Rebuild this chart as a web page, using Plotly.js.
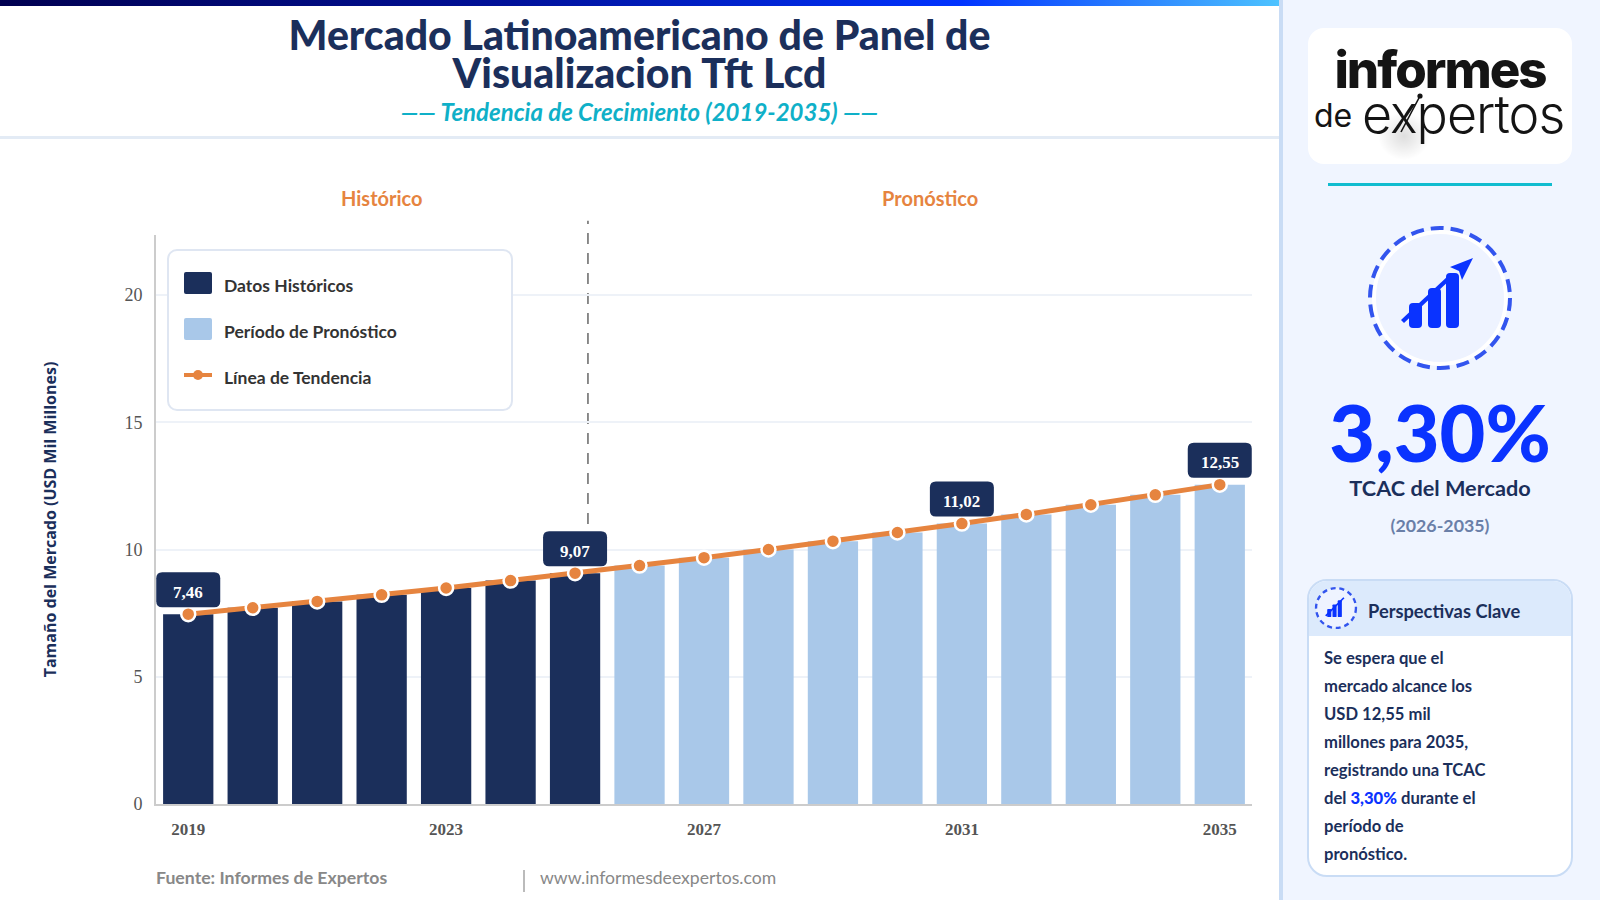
<!DOCTYPE html>
<html lang="es">
<head>
<meta charset="utf-8">
<script src="https://cdn.plot.ly/plotly-3.0.1.min.js"></script>
<style>
html,body{margin:0;padding:0;width:1600px;height:900px;overflow:hidden;background:#fff;font-family:Lato,sans-serif}
.abs{position:absolute;white-space:nowrap}
#topbar{left:0;top:0;width:1279px;height:6px;background:linear-gradient(90deg,#000050 0%,#00119a 40%,#0033ff 75%,#4dc3ff 100%)}
#hdrline{left:0;top:136px;width:1279px;height:3px;background:#e3ebf5}
#t1,#t2,#sub{left:0;width:1279px;text-align:center}
#t1,#t2{font-weight:900;font-size:41px;color:#1b2f5b;line-height:38px}
#t1{top:16px}#t2{top:54px}
#sub{top:98px;font-size:24px;font-weight:700;font-style:italic;color:#0fb0c8;line-height:28px}
#chart{left:0;top:0;width:1280px;height:900px}
#legend{left:167px;top:249px;width:346px;height:162px;box-sizing:border-box;background:#fff;border:2px solid #dfe6f2;border-radius:10px}
.sw{position:absolute;left:15px;width:28px;height:22px;border-radius:2px}
.lt{position:absolute;left:55px;font-size:17.5px;font-weight:700;color:#333;line-height:22px;white-space:nowrap}
#foot1{left:156px;top:867px;font-size:17.7px;font-weight:700;color:#888}
#footdiv{left:523px;top:870px;width:2px;height:22px;background:#bbb}
#foot2{left:540px;top:867px;font-size:17.6px;color:#888}
#side{left:1279px;top:0;width:321px;height:900px;box-sizing:border-box;background:#f0f5ff;border-left:4px solid #c9dcf5}
#logo{left:1308px;top:28px;width:264px;height:136px;background:#fff;border-radius:16px}
#l1{left:1308px;width:264px;text-align:center;top:45px;font-family:Inter,sans-serif;font-weight:800;font-size:51px;letter-spacing:-2px;color:#141414;line-height:50px}
#l2{left:1314px;top:98px;font-family:Inter,sans-serif;font-weight:400;font-size:32px;color:#141414;line-height:36px}
#l3{left:1362px;top:92px;font-family:Inter,sans-serif;font-weight:300;font-size:52px;letter-spacing:-1px;color:#141414;line-height:46px}
#teal{left:1328px;top:183px;width:224px;height:3px;background:#10bccf}
#pct{left:1280px;width:320px;text-align:center;top:394px;font-size:79px;font-weight:900;color:#0a33ff;line-height:76px}
#tcac{left:1280px;width:320px;text-align:center;top:475px;font-size:21.7px;font-weight:700;color:#1b2f5b;line-height:26px}
#per{left:1280px;width:320px;text-align:center;top:513px;font-size:17.8px;font-weight:700;color:#6a7fa8;line-height:24px}
#card{left:1307px;top:579px;width:266px;height:298px;box-sizing:border-box;background:#fff;border:2px solid #c9dcf5;border-radius:20px;overflow:hidden}
#cardh{position:absolute;left:0;top:0;width:100%;height:55px;background:#dceafc}
#cardt{position:absolute;left:59px;top:15px;font-size:18.3px;font-weight:700;color:#1b2f5b;line-height:30px;white-space:nowrap}
#cardb{position:absolute;left:15px;top:63px;font-size:16.6px;font-weight:700;color:#1b2f5b;line-height:28px;white-space:nowrap}
#cardb b{color:#0a33ff}
</style>
</head>
<body>
<div id="chart" class="abs"></div>
<div id="topbar" class="abs"></div>
<div id="hdrline" class="abs"></div>
<div id="t1" class="abs">Mercado Latinoamericano de Panel de</div>
<div id="t2" class="abs">Visualizacion Tft Lcd</div>
<div id="sub" class="abs">—— Tendencia de Crecimiento (2019-2035) ——</div>

<div id="legend" class="abs">
  <div class="sw" style="top:21px;background:#1b2f5b"></div><div class="lt" style="top:24px">Datos Históricos</div>
  <div class="sw" style="top:67px;background:#a9c8e9"></div><div class="lt" style="top:70px">Período de Pronóstico</div>
  <svg style="position:absolute;left:15px;top:113px" width="28" height="22"><rect x="0" y="9" width="28" height="4" fill="#e6843f"/><circle cx="14" cy="11" r="5" fill="#e6843f"/></svg>
  <div class="lt" style="top:116px">Línea de Tendencia</div>
</div>

<div id="foot1" class="abs">Fuente: Informes de Expertos</div>
<div id="footdiv" class="abs"></div>
<div id="foot2" class="abs">www.informesdeexpertos.com</div>

<div id="side" class="abs"></div>
<div id="logo" class="abs"></div>
<svg class="abs" style="left:1308px;top:28px" width="264" height="136">
  <defs><radialGradient id="sh"><stop offset="0" stop-color="#000" stop-opacity=".13"/><stop offset="1" stop-color="#000" stop-opacity="0"/></radialGradient></defs>
  <ellipse cx="96" cy="108" rx="26" ry="24" fill="url(#sh)"/>
</svg>
<div id="l1" class="abs">informes</div>
<div id="l2" class="abs">de</div>
<div id="l3" class="abs">expertos</div>
<svg class="abs" style="left:1308px;top:28px" width="264" height="136">
  <circle cx="112" cy="68" r="2.6" fill="#141414"/><path d="M112 68L93 104" stroke="#141414" stroke-width="1.6"/>
</svg>
<div id="teal" class="abs"></div>

<svg class="abs" style="left:1365px;top:223px" width="150" height="150" viewBox="0 0 150 150">
  <circle cx="75" cy="75" r="66" fill="#eef3ff" stroke="#fff" stroke-width="4"/>
  <circle cx="75" cy="75" r="70" fill="none" stroke="#3355ee" stroke-width="4" stroke-dasharray="13 7"/>
  <g fill="#0a33ff">
    <rect x="44" y="80" width="13" height="25" rx="4"/><rect x="63" y="65" width="13" height="40" rx="4"/><rect x="81" y="50" width="13" height="55" rx="4"/>
    <path d="M36 97 L84 52 L87 55 L39 100Z"/><path d="M108 35 L85 44 L94 48 L97 57Z"/>
  </g>
</svg>
<div id="pct" class="abs">3,30%</div>
<div id="tcac" class="abs">TCAC del Mercado</div>
<div id="per" class="abs">(2026-2035)</div>

<div id="card" class="abs">
  <div id="cardh"></div>
  <svg style="position:absolute;left:5px;top:5px" width="44" height="44" viewBox="0 0 150 150">
    <circle cx="75" cy="75" r="68" fill="#eef3ff" stroke="#3355ee" stroke-width="8" stroke-dasharray="17 13"/>
    <g fill="#0a33ff"><rect x="45" y="78" width="14" height="28" rx="3"/><rect x="63" y="63" width="14" height="43" rx="3"/><rect x="81" y="49" width="14" height="57" rx="3"/><path d="M38 100 L100 38 L104 42 L42 104Z"/></g>
  </svg>
  <div id="cardt">Perspectivas Clave</div>
  <div id="cardb">Se espera que el<br>mercado alcance los<br>USD 12,55 mil<br>millones para 2035,<br>registrando una TCAC<br>del <b>3,30%</b> durante el<br>período de<br>pronóstico.</div>
</div>

<script>
const histYears = [2019,2020,2021,2022,2023,2024,2025];
const histValues = [7.46,7.71,7.96,8.22,8.49,8.78,9.07];
const foreYears = [2026,2027,2028,2029,2030,2031,2032,2033,2034,2035];
const foreValues = [9.37,9.68,10.00,10.33,10.67,11.02,11.38,11.76,12.15,12.55];
const labelYears = [2019,2025,2031,2035];
const labelTexts = ['7,46','9,07','11,02','12,55'];
const labelValues = [7.46,9.07,11.02,12.55];
const xTicks = [2019,2023,2027,2031,2035];
const yTicks = [0,5,10,15,20];

const NAVY='#1b2f5b', LIGHT='#a9c8e9', ORANGE='#e6843f';
const allYears = histYears.concat(foreYears), allValues = histValues.concat(foreValues);

const traces = [
 {type:'bar',name:'Datos Históricos',x:histYears,y:histValues,marker:{color:NAVY},hoverinfo:'x+y'},
 {type:'bar',name:'Período de Pronóstico',x:foreYears,y:foreValues,marker:{color:LIGHT},hoverinfo:'x+y'},
 {type:'scatter',mode:'lines+markers',name:'Línea de Tendencia',x:allYears,y:allValues,
  line:{color:ORANGE,width:5},marker:{color:ORANGE,size:14,line:{color:'#fff',width:2.5}},hoverinfo:'x+y'}
];

// rounded bubble, anchored on the data point, sized in pixels
function bubblePath(){
  const w=32,b=7,t=42,r=6;
  return `M ${-w+r} ${b} L ${w-r} ${b} Q ${w} ${b} ${w} ${b+r} L ${w} ${t-r} Q ${w} ${t} ${w-r} ${t} L ${-w+r} ${t} Q ${-w} ${t} ${-w} ${t-r} L ${-w} ${b+r} Q ${-w} ${b} ${-w+r} ${b} Z`;
}
const shapes = [
 {type:'line',layer:'below',xref:'x',yref:'paper',x0:2025.2,x1:2025.2,y0:0,y1:1.025,line:{color:'#808080',width:1.8,dash:'11px 9px'}}
].concat(labelYears.map((yr,i)=>({type:'path',layer:'above',xref:'x',yref:'y',xsizemode:'pixel',ysizemode:'pixel',
   xanchor:yr,yanchor:labelValues[i],path:bubblePath(),fillcolor:NAVY,line:{width:0}})));

const annotations = labelYears.map((yr,i)=>({x:yr,y:labelValues[i],xref:'x',yref:'y',text:'<b>'+labelTexts[i]+'</b>',showarrow:false,
   xanchor:'center',yanchor:'middle',yshift:22,font:{family:'"Liberation Serif",serif',size:17,color:'#fff'}}));
annotations.push(
 {xref:'paper',yref:'paper',x:0.2058,y:1.065,xanchor:'center',yanchor:'middle',text:'<b>Histórico</b>',showarrow:false,font:{family:'Lato',size:20,color:ORANGE}},
 {xref:'paper',yref:'paper',x:0.7062,y:1.065,xanchor:'center',yanchor:'middle',text:'<b>Pronóstico</b>',showarrow:false,font:{family:'Lato',size:20,color:ORANGE}}
);

const layout = {
  width:1280,height:900,margin:{l:156,r:28,t:235,b:96,pad:0},autosize:false,
  paper_bgcolor:'rgba(0,0,0,0)',plot_bgcolor:'rgba(0,0,0,0)',showlegend:false,bargap:0.22,barmode:'overlay',
  xaxis:{range:[2018.5,2035.5],tickmode:'array',tickvals:xTicks,ticktext:xTicks.map(String),showgrid:false,zeroline:false,
    showline:true,linecolor:'#ccc',linewidth:2,ticks:'',ticklabelstandoff:9,
    tickfont:{family:'"Liberation Serif",serif',size:17,color:'#555',weight:'bold'}},
  yaxis:{range:[0,22.36],tickmode:'array',tickvals:yTicks,showgrid:true,gridcolor:'#eef2f8',gridwidth:2,zeroline:false,
    showline:true,linecolor:'#ccc',linewidth:2,ticks:'',ticklabelstandoff:8,
    tickfont:{family:'"Liberation Serif",serif',size:18,color:'#555'},
    title:{text:'<b>Tamaño del Mercado (USD Mil Millones)</b>',standoff:64,font:{family:'"Open Sans",sans-serif',size:16,color:NAVY}}},
  shapes,annotations
};
Plotly.newPlot('chart',traces,layout,{displayModeBar:false,staticPlot:true});
</script>
</body>
</html>
